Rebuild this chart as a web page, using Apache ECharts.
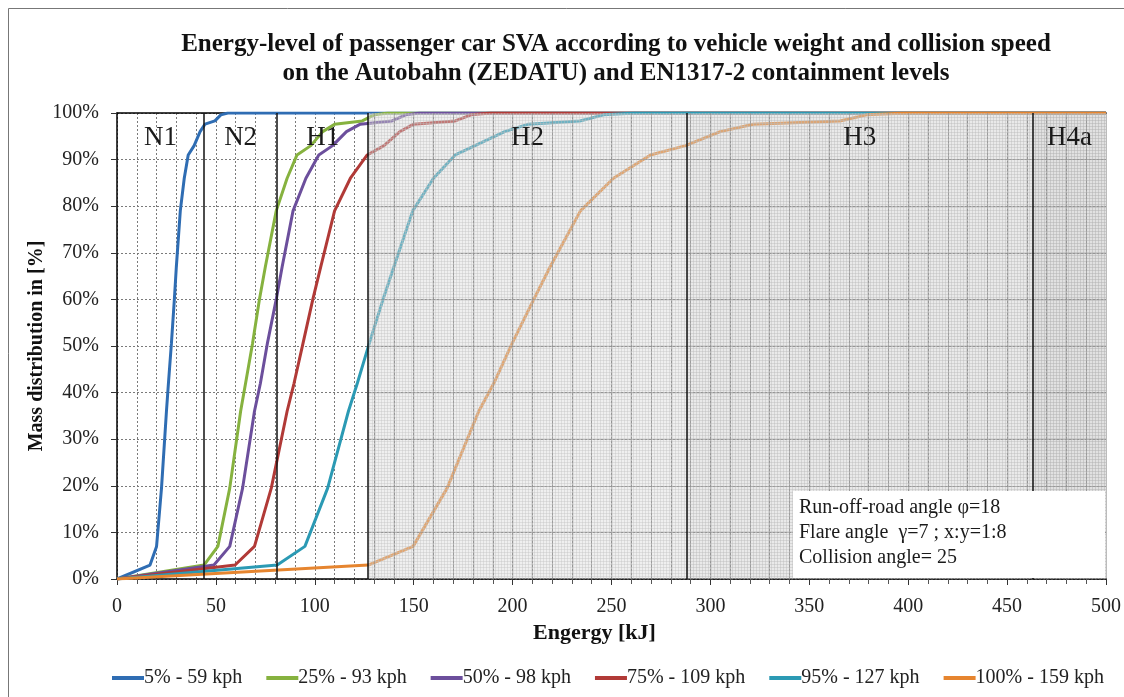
<!DOCTYPE html>
<html>
<head>
<meta charset="utf-8">
<script src="https://cdn.jsdelivr.net/npm/echarts@6/dist/echarts.min.js"></script>
<style>
  html, body { margin: 0; padding: 0; background: #fff; }
  #chart { width: 1124px; height: 697px; }
</style>
</head>
<body>
<div id="chart"></div>
<script>
// Cumulative mass share [%] shared by every speed curve
const massLevels = [0, 3, 7, 19.5, 36, 42, 50.5, 60, 67, 79, 86, 91, 93, 96, 97.6, 98.3, 99.6, 100, 100];

// Impact energy [kJ] reached at each mass level, one list per collision speed
const energy59  = [0, 16.7, 20, 22.5, 25, 26, 27.5, 29, 30, 32, 34, 36, 39, 42, 44.5, 49.5, 52.5, 56, 500];
const energy93  = [0, 44, 51, 57, 62.5, 65, 68.5, 72, 75, 80.5, 86, 91, 98, 104, 110, 124, 130, 137, 500];
const energy98  = [0, 49, 57, 63.5, 69.5, 72.5, 76, 80.5, 83.5, 89, 95.5, 102, 109, 116, 123, 139, 146, 153, 500];
const energy109 = [0, 59.7, 69.5, 78, 86, 89.5, 94, 99, 103, 110, 118, 126.5, 135, 143, 150, 171, 179, 189, 500];
const energy127 = [0, 81, 95, 106.5, 117, 121.5, 127.5, 134.5, 140, 149.5, 160, 171, 181, 196, 208, 234, 246, 262, 500];
const energy159 = [0, 127, 149.7, 166.9, 182.9, 190.5, 199.7, 210.7, 219, 234.3, 251, 269.7, 287.4, 305, 321.7, 365.5, 379, 399, 500];

const seriesNames = ['5% - 59 kph', '25% - 93 kph', '50% - 98 kph', '75% - 109 kph', '95% - 127 kph', '100% - 159 kph'];
const seriesEnergy = [energy59, energy93, energy98, energy109, energy127, energy159];
const seriesColors = ['#2f6db3', '#86b23f', '#6c4f9c', '#b13a37', '#2b9ab4', '#e6852f'];

// EN1317-2 containment levels: name and impact energy limit [kJ]
const levelNames = ['N1', 'N2', 'H1', 'H2', 'H3', 'H4a'];
const levelBounds = [0, 44, 81, 127, 288, 463, 500];

// axis scale settings
const X_MAX = 500, X_STEP = 50, X_MINOR = 10;
const Y_MAX = 100, Y_STEP = 10;

const FONT = '"Liberation Serif", "Times New Roman", serif';

// small grid texture used for the shaded containment bands
function gridPattern(bg, line) {
  const c = document.createElement('canvas');
  c.width = 3; c.height = 3;
  const g = c.getContext('2d');
  g.fillStyle = bg; g.fillRect(0, 0, 3, 3);
  g.fillStyle = line;
  g.fillRect(0, 0, 3, 1);
  g.fillRect(0, 0, 1, 3);
  return { image: c, repeat: 'repeat' };
}
const bandFill = [
  'rgba(255,255,255,0)', 'rgba(255,255,255,0)', 'rgba(255,255,255,0)',
  gridPattern('rgba(215,215,215,0.4)', 'rgba(195,195,195,0.4)'),
  gridPattern('rgba(206,206,206,0.45)', 'rgba(188,188,188,0.45)'),
  gridPattern('rgba(195,195,195,0.5)', 'rgba(180,180,180,0.5)')
];

const chart = echarts.init(document.getElementById('chart'), null, { renderer: 'canvas' });

const lineSeries = seriesNames.map((name, i) => ({
  name: name,
  type: 'line',
  data: seriesEnergy[i].map((e, k) => [e, massLevels[k]]),
  showSymbol: false,
  symbol: 'none',
  lineStyle: { width: 3, color: seriesColors[i] },
  itemStyle: { color: seriesColors[i] },
  z: 2,
  animation: false
}));

const bandSeries = {
  name: 'bands',
  type: 'line',
  data: [],
  silent: true,
  markArea: {
    silent: true,
    z: 10,
    label: {
      show: true, position: 'insideTop', distance: 11,
      fontFamily: FONT, fontSize: 27, color: '#1a1a1a'
    },
    data: levelNames.map((n, i) => [
      { name: n, xAxis: levelBounds[i], itemStyle: { color: bandFill[i] } },
      { xAxis: levelBounds[i + 1] }
    ])
  }
};

// grid lines redrawn on top of the shaded bands (from H1 limit to the axis end)
const shadeStart = levelBounds[3];
const bandGridLines = [];
for (let x = Math.ceil(shadeStart / X_MINOR) * X_MINOR; x < X_MAX; x += X_MINOR) {
  bandGridLines.push([{ coord: [x, 0] }, { coord: [x, Y_MAX] }]);
}
for (let y = Y_STEP; y < Y_MAX; y += Y_STEP) {
  bandGridLines.push([{ coord: [shadeStart, y] }, { coord: [X_MAX, y] }]);
}
const bandGridSeries = {
  name: 'bandGrid',
  type: 'line',
  data: [],
  silent: true,
  markLine: {
    silent: true,
    z: 11,
    symbol: ['none', 'none'],
    label: { show: false },
    lineStyle: { color: 'rgba(140,140,140,0.55)', type: 'solid', width: 1 },
    data: bandGridLines
  }
};

const limitSeries = {
  name: 'limits',
  type: 'line',
  data: [],
  silent: true,
  markLine: {
    silent: true,
    z: 12,
    symbol: ['none', 'none'],
    label: { show: false },
    lineStyle: { color: '#111', type: 'solid', width: 1.5 },
    data: levelBounds.slice(1, -1).map(v => ({ xAxis: v }))
  }
};

const gridDash = { color: '#7a7a7a', type: [2, 2], width: 1 };

const option = {
  animation: false,
  backgroundColor: '#fff',
  title: {
    text: 'Energy-level of passenger car SVA according to vehicle weight and collision speed\non the Autobahn (ZEDATU) and EN1317-2 containment levels',
    left: 611, top: 25, textAlign: 'center',
    textStyle: { fontFamily: FONT, fontWeight: 'bold', fontSize: 25, lineHeight: 29, color: '#111' }
  },
  grid: { left: 117, right: 18, top: 113, bottom: 118, containLabel: false },
  legend: {
    data: seriesNames,
    left: 107, top: 663,
    itemWidth: 32, itemHeight: 4, itemGap: 24,
    icon: 'rect',
    textStyle: { fontFamily: FONT, fontSize: 20, color: '#222', padding: [0, 0, 0, -5] }
  },
  xAxis: [{
    type: 'value', min: 0, max: X_MAX, interval: X_STEP,
    name: 'Engergy [kJ]', nameLocation: 'middle', nameGap: 43, nameMoveOverlap: false,
    nameTextStyle: { fontFamily: FONT, fontWeight: 'bold', fontSize: 22, color: '#111', padding: [0, 34, 0, 0] },
    axisLine: { show: true, lineStyle: { color: '#000', width: 1.5 } },
    axisTick: { show: true, length: 6, lineStyle: { color: '#333' } },
    minorTick: { show: true, splitNumber: X_STEP / X_MINOR, length: 5, lineStyle: { color: '#555' } },
    axisLabel: { fontFamily: FONT, fontSize: 20, color: '#222', margin: 18 },
    splitLine: { show: true, lineStyle: gridDash },
    minorSplitLine: { show: true, lineStyle: gridDash }
  }, {
    type: 'value', min: 0, max: X_MAX, position: 'top',
    axisLine: { show: true, onZero: false, lineStyle: { color: '#000', width: 1.5 } },
    axisTick: { show: false }, axisLabel: { show: false }, splitLine: { show: false }
  }],
  yAxis: [{
    type: 'value', min: 0, max: Y_MAX, interval: Y_STEP,
    name: 'Mass distribution in [%]', nameLocation: 'middle', nameGap: 70, nameRotate: 90,
    nameMoveOverlap: false,
    nameTextStyle: { fontFamily: FONT, fontWeight: 'bold', fontSize: 20, color: '#111' },
    axisLine: { show: true, lineStyle: { color: '#000', width: 1.5 } },
    axisTick: { show: true, length: 6, lineStyle: { color: '#333' } },
    axisLabel: { fontFamily: FONT, fontSize: 20, color: '#222', margin: 18, formatter: '{value}%' },
    splitLine: { show: true, lineStyle: gridDash }
  }, {
    type: 'value', min: 0, max: Y_MAX, position: 'right',
    axisLine: { show: true, onZero: false, lineStyle: { color: '#bbb', width: 1 } },
    axisTick: { show: false }, axisLabel: { show: false }, splitLine: { show: false }
  }],
  graphic: [
    {
      type: 'rect', silent: true, z: 0,
      shape: { x: 8.5, y: 8.5, width: 1130, height: 700 },
      style: { fill: 'none', stroke: '#777', lineWidth: 1 }
    },
    {
      type: 'group', left: 793, top: 491, z: 50,
      children: [
        { type: 'rect', z: 50, shape: { x: 0, y: 0, width: 312, height: 87 }, style: { fill: '#fff' } },
        { type: 'text', z: 51, left: 6, top: 4, style: {
            text: 'Run-off-road angle φ=18\nFlare angle  γ=7 ; x:y=1:8\nCollision angle= 25',
            font: '20px ' + FONT, lineHeight: 25, fill: '#1a1a1a' } }
      ]
    }
  ],
  series: lineSeries.concat([bandSeries, bandGridSeries, limitSeries])
};

chart.setOption(option);
</script>
</body>
</html>
